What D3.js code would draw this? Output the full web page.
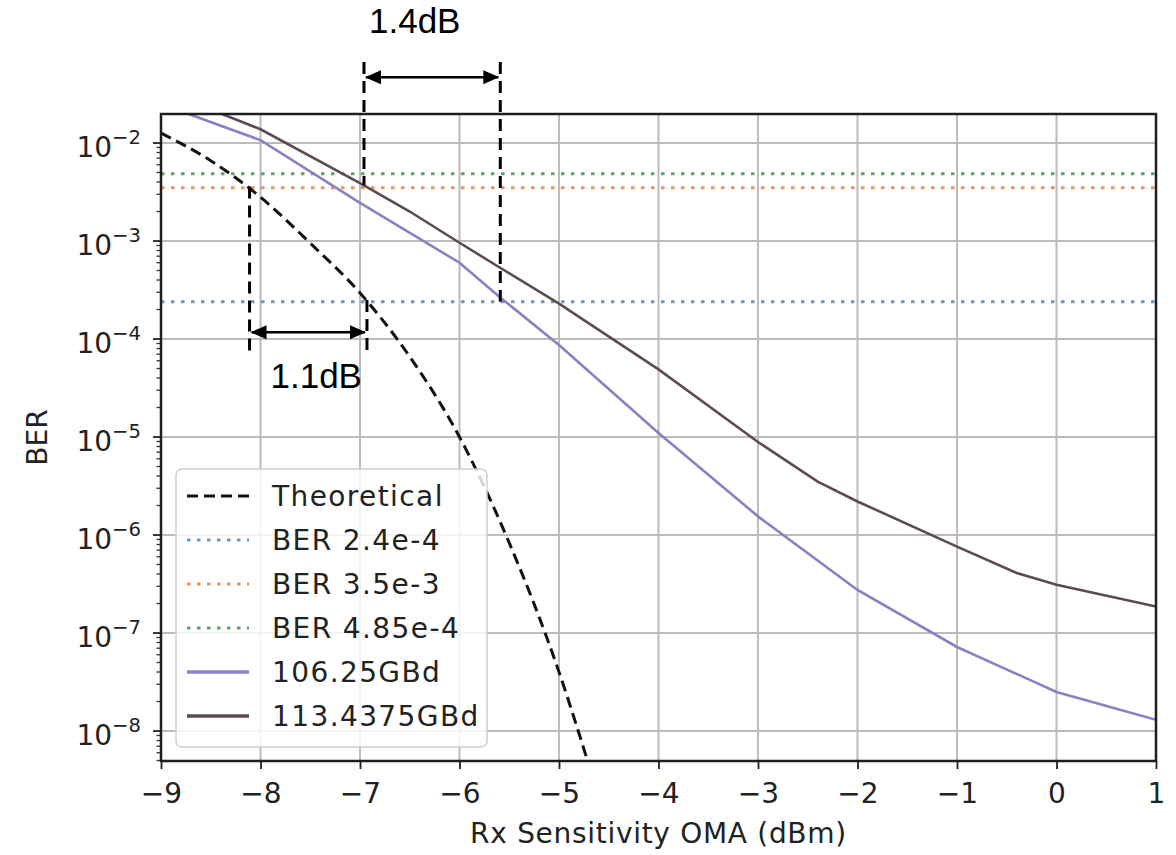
<!DOCTYPE html>
<html>
<head>
<meta charset="utf-8">
<script src="https://cdn.jsdelivr.net/npm/d3@7"></script>
<style>
  body { margin: 0; background: #ffffff; }
  svg { display: block; }
</style>
</head>
<body>
<svg id="chart" width="1176" height="855"></svg>
<script>
// ---- data ----
const xTicks = [-9, -8, -7, -6, -5, -4, -3, -2, -1, 0, 1];
const yDecades = [-8, -7, -6, -5, -4, -3, -2];

// theoretical PAM4 curve
const theoryX   = [-9, -8.5, -8, -7.5, -7, -6.5, -6, -5.5, -5, -4.7];
const theoryBER = [1.26e-2, 6.6e-3, 2.8e-3, 9.5e-4, 2.95e-4, 6.6e-5, 1.0e-5, 8.3e-7, 4.0e-8, 4.5e-9];

// measured, 106.25 GBd
const x106   = [-9, -8, -7, -6, -5.6, -5, -4, -3, -2, -1, 0, 1];
const ber106 = [2.5e-2, 1.07e-2, 2.45e-3, 6.0e-4, 2.7e-4, 8.7e-5, 1.1e-5, 1.55e-6, 2.75e-7, 7.2e-8, 2.5e-8, 1.3e-8];

// measured, 113.4375 GBd
const x113   = [-9, -8, -7, -6.5, -6, -5.6, -5, -4, -3, -2.4, -2, -1, -0.4, 0, 1];
const ber113 = [3.5e-2, 1.38e-2, 3.9e-3, 2.0e-3, 9.6e-4, 5.4e-4, 2.3e-4, 4.9e-5, 8.9e-6, 3.5e-6, 2.2e-6, 7.6e-7, 4.1e-7, 3.1e-7, 1.86e-7];

// FEC threshold lines
const thresholdNames  = ["BER 2.4e-4", "BER 3.5e-3", "BER 4.85e-4"];
const thresholdValues = [2.4e-4, 3.5e-3, 4.85e-3];
const thresholdColors = ["#6a98b6", "#f0905a", "#5ea36c"];

const seriesNames  = ["106.25GBd", "113.4375GBd"];
const seriesColors = ["#8a80c2", "#5e4c4c"];

// sensitivity-gap annotations (data coordinates)
const gapUpper = { x1: -6.96, x2: -5.59, yTop: 6.7e-2, yEnd1: 3.7e-3, yEnd2: 2.4e-4, yArrow: 4.7e-2, label: "1.4dB", xLabel: -6.45 };
const gapLower = { x1: -8.11, x2: -6.93, yTop1: 3.6e-3, yTop2: 2.5e-4, yEnd: 7.4e-5, yArrow: 1.17e-4, label: "1.1dB", xLabel: -7.44 };

// ---- layout ----
const svg = d3.select("#chart");
const pL = 161, pR = 1156, pT = 114, pB = 761;
const x = d3.scaleLinear().domain([-9, 1]).range([pL, pR]);
const y = d3.scaleLog().domain([Math.pow(10, -8.306), Math.pow(10, -1.704)]).range([pB, pT]);

const fontMain = "'DejaVu Sans', sans-serif";
const fontNote = "'Liberation Sans', Arial, sans-serif";
const fs = 28;

const defs = svg.append("defs");
defs.append("clipPath").attr("id", "plotClip")
  .append("rect").attr("x", pL).attr("y", pT).attr("width", pR - pL).attr("height", pB - pT);

// grid
const grid = svg.append("g");
grid.selectAll("line.vx").data(xTicks).join("line")
  .attr("x1", d => x(d)).attr("x2", d => x(d)).attr("y1", pT).attr("y2", pB)
  .attr("stroke", "#bcbcbc").attr("stroke-width", 2);
grid.selectAll("line.hy").data(yDecades).join("line")
  .attr("x1", pL).attr("x2", pR).attr("y1", d => y(Math.pow(10, d))).attr("y2", d => y(Math.pow(10, d)))
  .attr("stroke", "#bcbcbc").attr("stroke-width", 2);

const plot = svg.append("g").attr("clip-path", "url(#plotClip)");

// threshold lines
plot.selectAll("line.th").data(thresholdValues).join("line")
  .attr("x1", pL).attr("x2", pR)
  .attr("y1", d => y(d)).attr("y2", d => y(d))
  .attr("stroke", (d, i) => thresholdColors[i]).attr("stroke-width", 3)
  .attr("stroke-dasharray", "3.5 6.5");

// theoretical
const lineSmooth = d3.line().x(d => x(d[0])).y(d => y(d[1])).curve(d3.curveMonotoneX);
plot.append("path")
  .datum(d3.zip(theoryX, theoryBER))
  .attr("d", lineSmooth)
  .attr("fill", "none").attr("stroke", "#111").attr("stroke-width", 3)
  .attr("stroke-dasharray", "11 6");

// measured
const lineLin = d3.line().x(d => x(d[0])).y(d => y(d[1]));
plot.append("path").datum(d3.zip(x106, ber106)).attr("d", lineLin)
  .attr("fill", "none").attr("stroke", seriesColors[0]).attr("stroke-width", 2.6);
plot.append("path").datum(d3.zip(x113, ber113)).attr("d", lineLin)
  .attr("fill", "none").attr("stroke", seriesColors[1]).attr("stroke-width", 2.6);

// x axis
const xAxis = d3.axisBottom(x).tickValues(xTicks).tickSize(8).tickPadding(14)
  .tickFormat(d => d < 0 ? "\u2212" + Math.abs(d) : String(d));
const gx = svg.append("g").attr("transform", `translate(0,${pB})`).call(xAxis);
gx.select(".domain").remove();
gx.selectAll("line").attr("stroke", "#222").attr("stroke-width", 1.8);
gx.selectAll("text").attr("font-family", fontMain).attr("font-size", fs).attr("fill", "#222");

// y axis: major + minor ticks
const minorVals = [];
[-9, -8, -7, -6, -5, -4, -3, -2].forEach(k => {
  for (let m = 2; m <= 9; m++) {
    const v = m * Math.pow(10, k);
    if (v >= y.domain()[0] && v <= y.domain()[1]) minorVals.push(v);
  }
});
const gy = svg.append("g");
gy.selectAll("line.minor").data(minorVals).join("line")
  .attr("x1", pL - 4.5).attr("x2", pL).attr("y1", d => y(d)).attr("y2", d => y(d))
  .attr("stroke", "#333").attr("stroke-width", 1.3);
gy.selectAll("line.major").data(yDecades).join("line")
  .attr("x1", pL - 8).attr("x2", pL).attr("y1", d => y(Math.pow(10, d))).attr("y2", d => y(Math.pow(10, d)))
  .attr("stroke", "#222").attr("stroke-width", 1.8);
const yl = gy.selectAll("text.yt").data(yDecades).join("text")
  .attr("x", pL - 20).attr("y", d => y(Math.pow(10, d)) + 13.5)
  .attr("text-anchor", "end").attr("font-family", fontMain).attr("font-size", fs).attr("fill", "#222");
yl.append("tspan").text("10");
yl.append("tspan").attr("dy", -12.6).attr("font-size", fs * 0.7).text(d => "\u2212" + Math.abs(d));

// spines
svg.append("rect").attr("x", pL).attr("y", pT).attr("width", pR - pL).attr("height", pB - pT)
  .attr("fill", "none").attr("stroke", "#1e1e1e").attr("stroke-width", 2.5);

// axis titles
svg.append("text").attr("x", (pL + pR) / 2).attr("y", 843).attr("text-anchor", "middle")
  .attr("font-family", fontMain).attr("font-size", fs).attr("letter-spacing", 0.7).attr("fill", "#222")
  .text("Rx Sensitivity OMA (dBm)");
svg.append("text").attr("transform", `translate(47,${(pT + pB) / 2}) rotate(-90)`).attr("text-anchor", "middle")
  .attr("font-family", fontMain).attr("font-size", fs).attr("fill", "#222").text("BER");

// legend
const legend = svg.append("g");
legend.append("rect").attr("x", 176).attr("y", 469).attr("width", 311).attr("height", 278).attr("rx", 6)
  .attr("fill", "#ffffff").attr("fill-opacity", 0.82).attr("stroke", "#d0d0d0").attr("stroke-width", 1.5);
const legendItems = [
  { name: "Theoretical", color: "#111", dash: "11 6", w: 3 },
  ...thresholdNames.map((n, i) => ({ name: n, color: thresholdColors[i], dash: "3.5 6.5", w: 3 })),
  ...seriesNames.map((n, i) => ({ name: n, color: seriesColors[i], dash: null, w: 3.5 }))
];
const li = legend.selectAll("g.item").data(legendItems).join("g")
  .attr("transform", (d, i) => `translate(0,${496 + i * 44})`);
li.append("line").attr("x1", 187).attr("x2", 249).attr("y1", 0).attr("y2", 0)
  .attr("stroke", d => d.color).attr("stroke-width", d => d.w)
  .attr("stroke-dasharray", d => d.dash);
li.append("text").attr("x", 272).attr("y", 10).attr("font-family", fontMain).attr("font-size", fs)
  .attr("letter-spacing", 1.4).attr("fill", "#222").text(d => d.name);

// annotations
defs.append("marker").attr("id", "arrowHead").attr("viewBox", "0 0 16 16").attr("refX", 15).attr("refY", 8)
  .attr("markerWidth", 16).attr("markerHeight", 16).attr("markerUnits", "userSpaceOnUse").attr("orient", "auto-start-reverse")
  .append("path").attr("d", "M0,1 L16,8 L0,15 Z").attr("fill", "#000");

const ann = svg.append("g");
const dashed = (x0, y0, y1) => ann.append("line")
  .attr("x1", x(x0)).attr("x2", x(x0)).attr("y1", y(y0)).attr("y2", y(y1))
  .attr("stroke", "#000").attr("stroke-width", 3).attr("stroke-dasharray", "12 7");
const arrow = (xa, xb, ya) => ann.append("line")
  .attr("x1", x(xa) + 2).attr("x2", x(xb) - 2).attr("y1", y(ya)).attr("y2", y(ya))
  .attr("stroke", "#000").attr("stroke-width", 2.5)
  .attr("marker-start", "url(#arrowHead)").attr("marker-end", "url(#arrowHead)");

dashed(gapUpper.x1, gapUpper.yTop, gapUpper.yEnd1);
dashed(gapUpper.x2, gapUpper.yTop, gapUpper.yEnd2);
arrow(gapUpper.x1, gapUpper.x2, gapUpper.yArrow);
ann.append("text").attr("x", x(gapUpper.xLabel)).attr("y", 33)
  .attr("text-anchor", "middle").attr("font-family", fontNote).attr("font-size", 35)
  .attr("fill", "#000").text(gapUpper.label);

dashed(gapLower.x1, gapLower.yTop1, gapLower.yEnd);
dashed(gapLower.x2, gapLower.yTop2, gapLower.yEnd);
arrow(gapLower.x1, gapLower.x2, gapLower.yArrow);
ann.append("text").attr("x", x(gapLower.xLabel)).attr("y", 388)
  .attr("text-anchor", "middle").attr("font-family", fontNote).attr("font-size", 35)
  .attr("fill", "#000").text(gapLower.label);
</script>
</body>
</html>
